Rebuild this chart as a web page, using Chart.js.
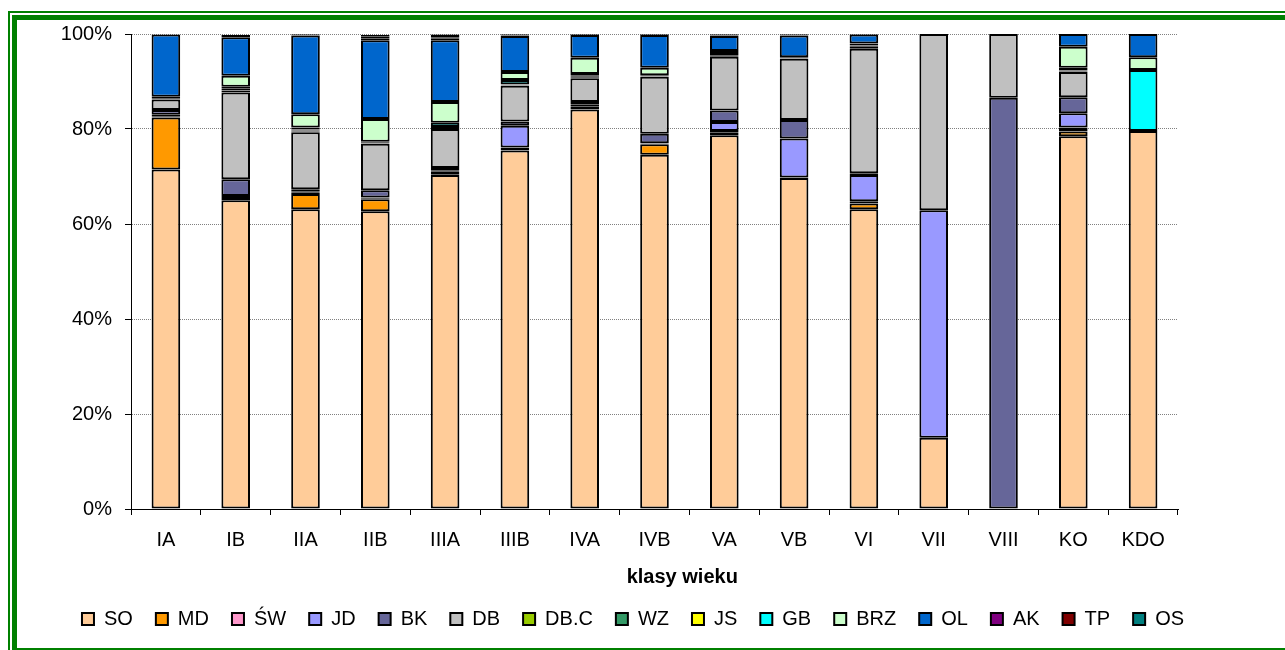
<!DOCTYPE html>
<html>
<head>
<meta charset="utf-8">
<script src="https://cdn.jsdelivr.net/npm/chart.js@4/dist/chart.umd.min.js"></script>
<style>
  html, body { margin: 0; padding: 0; background: #fff; overflow: hidden; }
  body { width: 1285px; height: 650px; position: relative; }
  .ramka-zew { position: absolute; left: 8px; top: 11px; width: 1320px; height: 700px; border: 2px solid #008000; }
  .ramka-wew { position: absolute; left: 12px; top: 15px; width: 1310px; height: 628px; border: 5px solid #008000; }
  #wykres-box { position: absolute; left: 20px; top: 9px; width: 1245px; height: 639px; }
</style>
</head>
<body>
<div class="ramka-zew"></div>
<div class="ramka-wew"></div>
<div id="wykres-box"><canvas id="grafico-klasy"></canvas></div>
<script>
// klasy wieku
const klasy = ['IA', 'IB', 'IIA', 'IIB', 'IIIA', 'IIIB', 'IVA', 'IVB', 'VA', 'VB', 'VI', 'VII', 'VIII', 'KO', 'KDO'];

// udzial gatunkow (%) w kolejnych klasach
const SO  = [71.5, 65.0, 63.1, 62.7, 70.3, 75.5, 84.1, 74.6, 78.7, 69.7, 63.1, 15.0, 0, 78.5, 79.6];
const MD  = [10.9, 0.5, 3.2, 2.5, 0.2, 0.3, 0.3, 2.2, 0.6, 0.1, 1.2, 0, 0, 1.0, 0];
const SW  = [0.3, 0.2, 0.3, 0.2, 0.5, 0.3, 0.3, 0.1, 0.3, 0, 0.5, 0, 0, 0.8, 0];
const JD  = [0.3, 0.2, 0.3, 0.2, 0.3, 4.6, 0.4, 0.1, 1.9, 8.2, 5.5, 47.9, 0, 3.0, 0];
const BK  = [1.0, 3.5, 0.4, 1.5, 0.5, 0.9, 0.6, 2.0, 2.4, 3.9, 0.4, 0, 86.6, 3.4, 0];
const DB  = [2.2, 18.3, 12.0, 9.8, 8.2, 7.5, 5.0, 12.0, 11.3, 12.9, 26.2, 37.1, 13.4, 5.3, 0];
const DBC = [0, 0.4, 0.2, 0.1, 0.2, 0.1, 0.2, 0, 0.2, 0, 0, 0, 0, 0.1, 0];
const WZ  = [0, 0.4, 0.2, 0.1, 0.2, 0.1, 0.2, 0, 0.2, 0, 0.4, 0, 0, 0.1, 0];
const JS  = [0, 0.4, 0.2, 0, 0, 0.1, 0.2, 0.1, 0.2, 0, 0, 0, 0, 0.1, 0];
const GB  = [0.3, 0, 0.4, 0.2, 0.9, 0.9, 0.3, 0.2, 0.2, 0.1, 0.3, 0, 0, 0.6, 12.8];
const BRZ = [0.3, 2.3, 2.8, 4.8, 4.4, 1.7, 3.4, 1.6, 0.4, 0.2, 0.4, 0, 0, 4.4, 2.7];
const OL  = [13.1, 8.1, 16.6, 16.6, 13.0, 7.6, 4.8, 6.9, 3.2, 4.6, 1.9, 0, 0, 2.7, 4.9];
const AK  = [0, 0, 0, 0.3, 0.3, 0.1, 0, 0, 0.1, 0, 0, 0, 0, 0, 0];
const TP  = [0, 0.3, 0.2, 0.4, 0.3, 0.2, 0.1, 0.1, 0.2, 0.2, 0.1, 0, 0, 0, 0];
const OS  = [0, 0.2, 0.1, 0.4, 0.6, 0.1, 0.1, 0.1, 0.1, 0.1, 0, 0, 0, 0, 0];

const gatunki = ['SO', 'MD', 'ŚW', 'JD', 'BK', 'DB', 'DB.C', 'WZ', 'JS', 'GB', 'BRZ', 'OL', 'AK', 'TP', 'OS'];
const serie = [SO, MD, SW, JD, BK, DB, DBC, WZ, JS, GB, BRZ, OL, AK, TP, OS];
const kolory = ['#FFCC99', '#FF9900', '#FF99CC', '#9999FF', '#666699', '#C0C0C0', '#99CC00', '#339966',
                '#FFFF00', '#00FFFF', '#CCFFCC', '#0066CC', '#800080', '#800000', '#008080'];

const yTicks = [0, 20, 40, 60, 80, 100];

Chart.defaults.font.family = '"Liberation Sans", Arial, sans-serif';
Chart.defaults.color = '#000';

// przesuwa legende tak jak w oryginale (nie jest wycentrowana wzgledem wykresu)
const przesunLegende = {
  id: 'przesunLegende',
  afterLayout(chart) {
    const lg = chart.legend;
    const dx = 613 - (lg.left + lg.right) / 2;
    lg.left += dx;
    lg.right += dx;
    lg.top -= 3;
    lg.bottom -= 3;
  }
};

function criarGraficoKlasy() {
  const ctx = document.getElementById('grafico-klasy').getContext('2d');
  new Chart(ctx, {
    type: 'bar',
    data: {
      labels: klasy,
      datasets: gatunki.map((g, i) => ({
        label: g,
        data: serie[i],
        backgroundColor: kolory[i],
        borderColor: '#000',
        borderWidth: 2,
        borderSkipped: false,
        barPercentage: 0.41,
        categoryPercentage: 1
      }))
    },
    options: {
      responsive: true,
      maintainAspectRatio: false,
      animation: false,
      layout: { padding: { top: 1, right: 87, bottom: 6, left: 0 } },
      plugins: {
        legend: {
          position: 'bottom',
          labels: { boxWidth: 12, boxHeight: 12, padding: 23, color: '#000', font: { size: 20 } }
        },
        tooltip: { enabled: false }
      },
      scales: {
        x: {
          stacked: true,
          grid: { display: true, drawOnChartArea: false, drawTicks: true, tickLength: 6, tickColor: '#000', offset: true },
          border: { color: '#000', width: 1 },
          ticks: { color: '#000', font: { size: 20 }, padding: 13, maxRotation: 0, autoSkip: false },
          title: {
            display: true,
            // tytul w oryginale lekko przesuniety w prawo
            text: '\u00a0'.repeat(10) + 'klasy wieku',
            color: '#000',
            font: { size: 20, weight: 'bold' },
            padding: { top: 0, bottom: 0 }
          }
        },
        y: {
          stacked: true,
          min: 0,
          max: 100,
          afterFit: scale => { scale.width = 111; },
          afterBuildTicks: scale => { scale.ticks = yTicks.map(v => ({ value: v })); },
          ticks: { color: '#000', font: { size: 20 }, padding: 13, callback: v => v + '%' },
          grid: {
            color: c => (c.tick && c.tick.value === 0) ? 'rgba(0,0,0,0)' : '#808080',
            tickColor: '#000',
            tickLength: 6,
            tickBorderDash: []
          },
          border: { color: '#000', width: 1, dash: [1, 1] }
        }
      }
    },
    plugins: [przesunLegende]
  });
}

window.addEventListener('load', () => {
  criarGraficoKlasy();
});
</script>
</body>
</html>
